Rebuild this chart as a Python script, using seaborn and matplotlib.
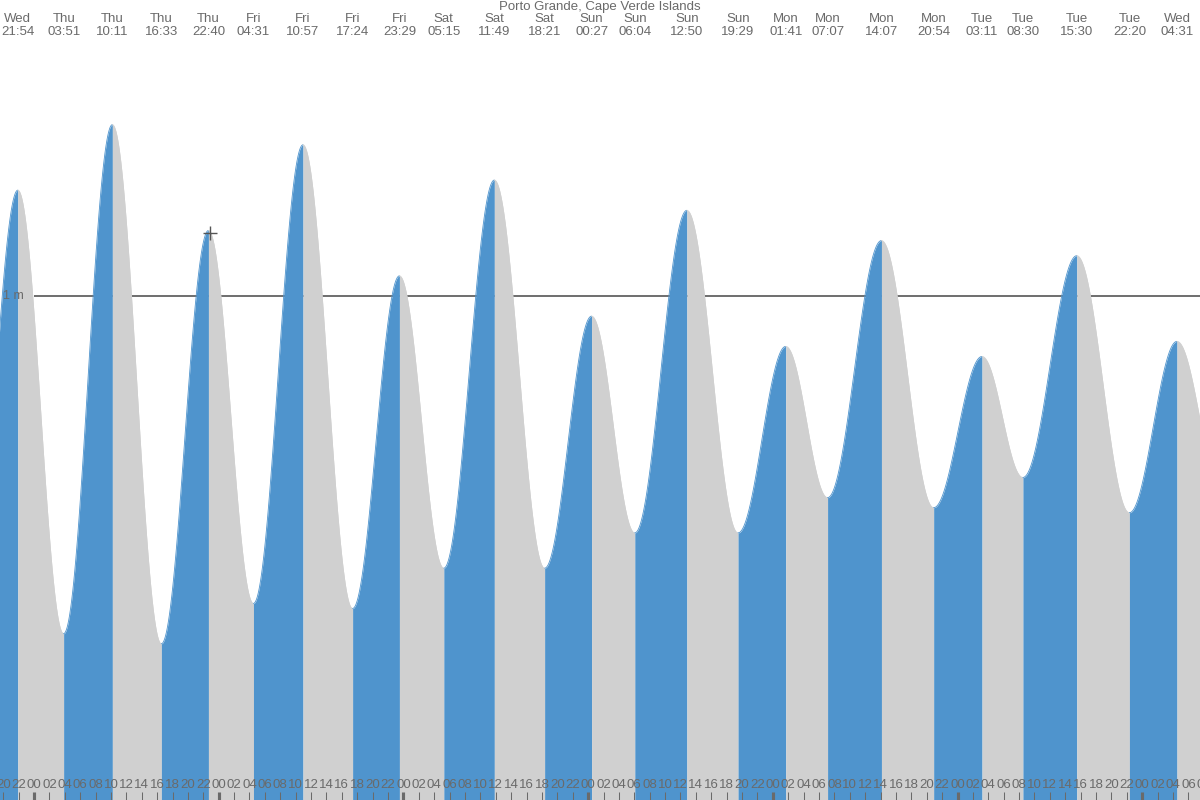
"""Tide chart for Porto Grande, Cape Verde Islands."""

import matplotlib

matplotlib.use("Agg")

import matplotlib.pyplot as plt
import numpy as np
import pandas as pd
import seaborn as sns

# tide extremes shown on top of the chart
DAYS = [
    "Wed", "Thu", "Thu", "Thu", "Thu", "Fri", "Fri", "Fri", "Fri", "Sat", "Sat", "Sat",
    "Sun", "Sun", "Sun", "Sun", "Mon", "Mon", "Mon", "Mon", "Tue", "Tue", "Tue", "Tue", "Wed",
]
TIMES = [
    "21:54", "03:51", "10:11", "16:33", "22:40", "04:31", "10:57", "17:24", "23:29", "05:15",
    "11:49", "18:21", "00:27", "06:04", "12:50", "19:29", "01:41", "07:07", "14:07", "20:54",
    "03:11", "08:30", "15:30", "22:20", "04:31",
]
HEIGHTS = [
    1.21, 0.33, 1.34, 0.31, 1.13, 0.39, 1.30, 0.38, 1.04, 0.46, 1.23, 0.46,
    0.96, 0.53, 1.17, 0.53, 0.90, 0.60, 1.11, 0.58, 0.88, 0.64, 1.08, 0.57, 0.91,
]

# extremes just outside the visible window (not labelled)
EDGE_BEFORE = (-8.25, 0.35)   # Wed ~15:45
EDGE_AFTER = (154.5, 0.60)    # Wed ~10:30

TITLE = "Porto Grande, Cape Verde Islands"

BLUE = "#4f94cd"
GREY = "#d0d0d0"
TEXT = "#6a6a6a"

PX_HOUR = 7.696     # pixels per hour
PX_ZERO = 34.0      # pixel x of Thu 00:00
PX_METRE = 504.0    # pixels per metre


def to_hours(days: list[str], times: list[str]) -> list[float]:
    """Hours relative to Thu 00:00."""
    hours = []
    day_idx = 0
    prev = days[0]
    for day, t in zip(days, times):
        if day != prev:
            day_idx += 1
            prev = day
        hh, mm = (int(v) for v in t.split(":"))
        hours.append((day_idx - 1) * 24 + hh + mm / 60)
    return hours


hours = to_hours(DAYS, TIMES)
ext = pd.DataFrame(
    {"hour": [EDGE_BEFORE[0]] + hours + [EDGE_AFTER[0]],
     "height": [EDGE_BEFORE[1]] + HEIGHTS + [EDGE_AFTER[1]]}
)

sns.set_theme(style="white")
plt.rcParams["font.family"] = ["Liberation Sans", "DejaVu Sans"]

fig = plt.figure(figsize=(12, 8), dpi=100)
ax = fig.add_axes([0, 0, 1, 1])
x_min = -PX_ZERO / PX_HOUR
x_max = (1200 - PX_ZERO) / PX_HOUR
ax.set_xlim(x_min, x_max)
ax.set_ylim(0, 800 / PX_METRE)
ax.axis("off")

# 1 m reference line sits behind the fills
ax.hlines(1.0, 0, x_max, color="#555555", linewidth=1.2, zorder=1)

# tide curve: cosine shape between consecutive extremes
for (t0, h0), (t1, h1) in zip(ext.values[:-1], ext.values[1:]):
    t = np.linspace(t0, t1, 120)
    level = h0 + (h1 - h0) * (1 - np.cos(np.pi * (t - t0) / (t1 - t0))) / 2
    seg = pd.DataFrame({"hour": t, "level": level})
    colour = BLUE if h1 > h0 else GREY
    ax.fill_between(seg["hour"], 0, seg["level"], color=colour, linewidth=0, zorder=2)
    sns.lineplot(data=seg, x="hour", y="level", ax=ax, color=colour, linewidth=0.6, zorder=2)

ax.text(3 / PX_HOUR + x_min, 1.0, "1 m", color=TEXT, fontsize=9, va="center", ha="left", zorder=4)

# marker at the current extreme
ax.plot(hours[4] + 0.2, HEIGHTS[4] - 0.005, marker="+", markersize=10, color="#555555", mew=1, zorder=5)

# header: title plus day / time of each extreme
trans = ax.get_xaxis_transform()
ax.text(0.5, 1 - 7 / 800, TITLE, transform=ax.transAxes, ha="center", va="center",
        color=TEXT, fontsize=9.5)
for h, d, t in zip(hours, DAYS, TIMES):
    ax.text(h, 1 - 19 / 800, d, transform=trans, ha="center", va="center", color=TEXT, fontsize=9.5)
    ax.text(h, 1 - 32 / 800, t, transform=trans, ha="center", va="center", color=TEXT, fontsize=9.5)

# hour axis at the bottom
for h in range(-4, 154, 2):
    ax.text(h, 15 / 800, f"{h % 24:02d}", transform=trans, ha="center", va="center",
            color=TEXT, fontsize=9.5, zorder=4)
    width = 3 if h % 24 == 0 else 1
    ax.vlines(h, 0, 8 / 800, transform=trans, color=TEXT, linewidth=width * 0.75, zorder=4)

fig.savefig("out.png", dpi=100)
plt.close(fig)
